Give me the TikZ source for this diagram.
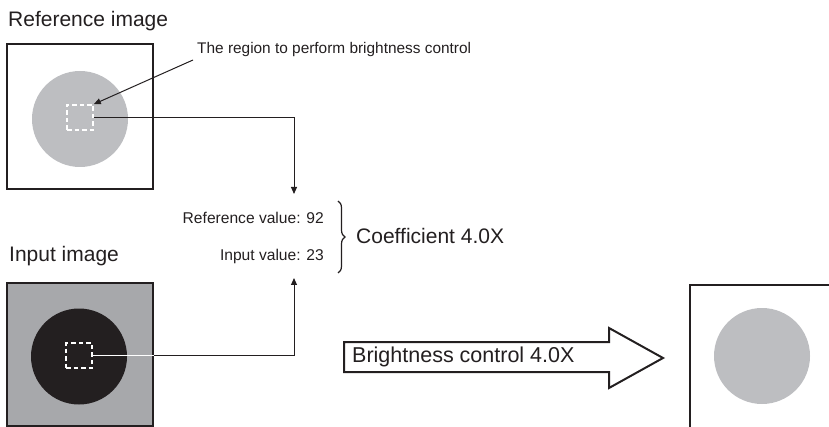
\documentclass[tikz,border=0pt]{standalone}
\usepackage{fontspec}
\setmainfont{Liberation Sans}
\usetikzlibrary{arrows.meta,decorations.pathreplacing}
\definecolor{ink}{HTML}{231F20}
\definecolor{lightdisk}{HTML}{BDBEC1}
\definecolor{inbg}{HTML}{A7A8AB}
\definecolor{dbl}{HTML}{8A8B8D}
\tikzset{
  framebox/.style={draw=ink, line width=2pt, inner sep=0pt},
  disk/.style={circle, inner sep=0pt, minimum size=96pt},
  selbox/.style={draw=white, dash pattern=on 4.5pt off 3pt, line width=1.6pt, inner sep=0pt},
  title/.style={anchor=base west, inner sep=0pt, font=\fontsize{21}{24}\selectfont, text=ink},
  small/.style={anchor=base east, inner sep=0pt, font=\fontsize{15.6}{18}\selectfont, text=ink},
  link/.style={draw=ink, line width=1pt},
  tip/.style={-{Triangle[length=7pt,width=6pt]}},
}
\begin{document}
\begin{tikzpicture}[x=1pt,y=-1pt]
\useasboundingbox (0,0) rectangle (829,427);
\clip (0,0) rectangle (829,427);
% titles
\node[title] (reftitle) at (8,27) {Reference image};
\node[title] (intitle) at (9,262) {Input image};
% reference image
\node[framebox, minimum width=146pt, minimum height=145pt] (refbox) at (80,116.5) {};
\node[disk, fill=lightdisk] (refdisk) at (80,119) {};
\node[selbox, minimum width=26pt, minimum height=25pt] (refsel) at (80,117.5) {};
% input image
\node[framebox, fill=inbg, minimum width=146pt, minimum height=143pt] (inbox) at (80,354.5) {};
\node[disk, fill=ink] (indisk) at (79,356.5) {};
\node[selbox, minimum width=26pt, minimum height=25pt] (insel) at (79,355.5) {};
% output image
\node[framebox, minimum width=160pt, minimum height=160pt, anchor=north west] (outbox) at (689,284) {};
\node[disk, fill=lightdisk] (outdisk) at (762,356) {};
% annotation
\node[anchor=base west, inner sep=0pt, font=\fontsize{15.4}{18}\selectfont, text=ink] (note) at (197,54) {The region to perform brightness control};
\coordinate (notestart) at (193,60);
\draw[link, tip] (notestart) -- (refsel.north east);
% values
\node[small] (refval) at (324,224) {Reference value: 92};
\node[small] (inval) at (324,261) {Input value: 23};
\draw[ink, line width=1.2pt, decorate, decoration={brace, amplitude=7pt}] (338,201) -- (338,273);
\node[anchor=base west, inner sep=0pt, font=\fontsize{21}{24}\selectfont, text=ink] (coef) at (356,244) {Coefficient 4.0X};
% connectors
\coordinate (downtip) at (294,194);
\draw[link, tip] (refsel.east) -- (downtip |- refsel.east) -- (downtip);
\coordinate (uptip) at (294,278);
\coordinate (inedge) at (inbox.east |- insel.east);
\draw[draw=dbl, double=white, double distance=0.7pt, line width=0.6pt] (insel.east) -- (inedge);
\draw[link, tip] (inedge) -- (uptip |- inedge) -- (uptip);
% big arrow
\draw[draw=ink, line width=2pt, fill=white, line join=miter] (344,342) -- (609,342) -- (609,328) -- (663,358) -- (609,388) -- (609,372) -- (344,372) -- cycle;
\node[anchor=base west, inner sep=0pt, font=\fontsize{21.5}{24}\selectfont, text=ink] (bctext) at (352,362) {Brightness control 4.0X};
\end{tikzpicture}
\end{document}
